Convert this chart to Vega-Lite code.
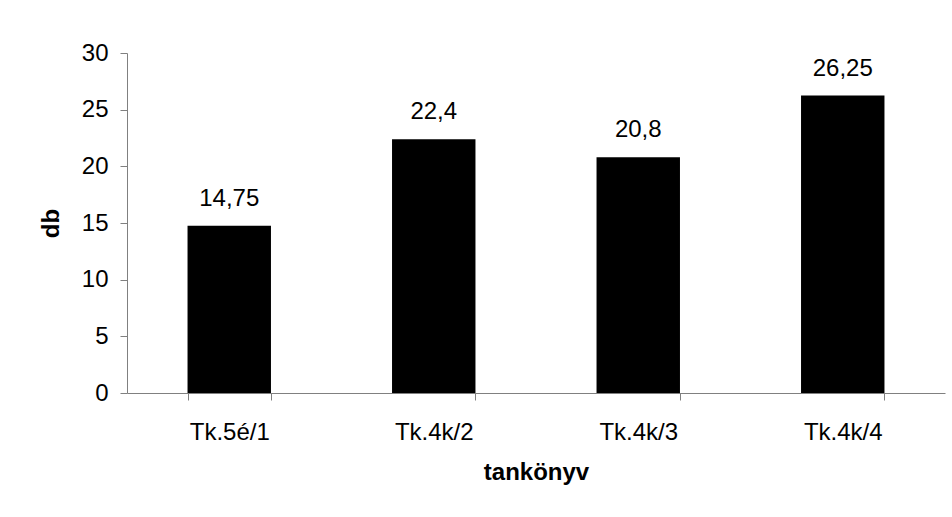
{
  "$schema": "https://vega.github.io/schema/vega-lite/v6.json",
  "width": 818,
  "height": 340,
  "autosize": {"type": "none"},
  "padding": {"left": 127, "top": 53, "right": 7, "bottom": 124},
  "background": "white",
  "config": {
    "view": {"stroke": null},
    "font": "Liberation Sans",
    "locale": {"number": {"decimal": ",", "thousands": " ", "grouping": [3], "currency": ["", " Ft"]}}
  },
  "data": {
    "values": [
      {"tankonyv": "Tk.5é/1", "db": 14.75},
      {"tankonyv": "Tk.4k/2", "db": 22.4},
      {"tankonyv": "Tk.4k/3", "db": 20.8},
      {"tankonyv": "Tk.4k/4", "db": 26.25}
    ]
  },
  "encoding": {
    "x": {
      "field": "tankonyv",
      "type": "nominal",
      "sort": null,
      "scale": {"paddingInner": 0.592, "paddingOuter": 0.296},
      "axis": {
        "title": "tankönyv",
        "labelAngle": 0,
        "labelFontSize": 24,
        "labelColor": "black",
        "labelPadding": 20,
        "tickBand": "extent",
        "tickSize": 7,
        "tickColor": "#808080",
        "domainColor": "#808080",
        "titleFontSize": 24,
        "titleFontWeight": "bold",
        "titleColor": "black",
        "titleBaseline": "alphabetic",
        "titleY": 86,
        "titleX": 409
      }
    },
    "y": {
      "field": "db",
      "type": "quantitative",
      "scale": {"domain": [0, 30], "nice": false},
      "axis": {
        "title": "db",
        "values": [0, 5, 10, 15, 20, 25, 30],
        "grid": false,
        "labelFontSize": 24,
        "labelColor": "black",
        "labelPadding": 12,
        "tickSize": 7,
        "tickColor": "#808080",
        "domainColor": "#808080",
        "titleFontSize": 24,
        "titleFontWeight": "bold",
        "titleColor": "black",
        "titleBaseline": "middle",
        "titleX": -76,
        "titleY": 170
      }
    }
  },
  "layer": [
    {"mark": {"type": "bar", "color": "black"}},
    {
      "mark": {"type": "text", "baseline": "alphabetic", "dy": -20, "fontSize": 24, "color": "black"},
      "encoding": {"text": {"field": "db", "type": "quantitative", "format": "~g"}}
    }
  ]
}
